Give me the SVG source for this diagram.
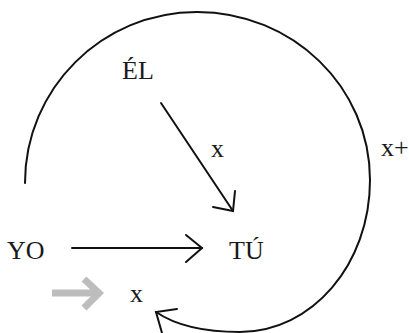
<svg xmlns="http://www.w3.org/2000/svg" width="409" height="333" viewBox="0 0 409 333">
<style>
text{font-family:"Liberation Serif","DejaVu Serif",serif;font-size:26px;fill:#1a1a1a}
.ln{fill:none;stroke:#111;stroke-width:2;stroke-linecap:round;stroke-linejoin:miter}
.gr{fill:none;stroke:#bdbdbd;stroke-width:7;stroke-linejoin:miter}
</style>
<rect width="409" height="333" fill="#fff"/>
<g id="connectors">
<g id="yo-tu"><path class="ln" d="M72,248 H202"/><path class="ln" d="M186,235 L202,248 L186,262"/></g>
<g id="el-tu"><path class="ln" d="M161,103 L233,211"/><path class="ln" d="M235,191 L233,211 L213,207"/></g>
<g id="loop"><path class="ln" d="M25,183 C25,88.6 102,12 197,12 C292.5,12 370,87 370,180 C370,264.5 312,332 240,332 C205,332 175,325 156,312"/><path class="ln" d="M177,309 L156,312 L162,333"/></g>
<g id="gray-arrow"><path class="gr" d="M52,293 H97"/><path class="gr" d="M84,279 L99,293 L84,308"/></g>
</g>
<g id="node-el"><text x="122" y="79">ÉL</text></g>
<g id="node-yo"><text x="7" y="259">YO</text></g>
<g id="node-tu"><text x="229" y="259">TÚ</text></g>
<g id="label-x1"><text x="211" y="157">x</text></g>
<g id="label-xplus"><text x="381" y="156">x+</text></g>
<g id="label-x2"><text x="130" y="302">x</text></g>
</svg>
